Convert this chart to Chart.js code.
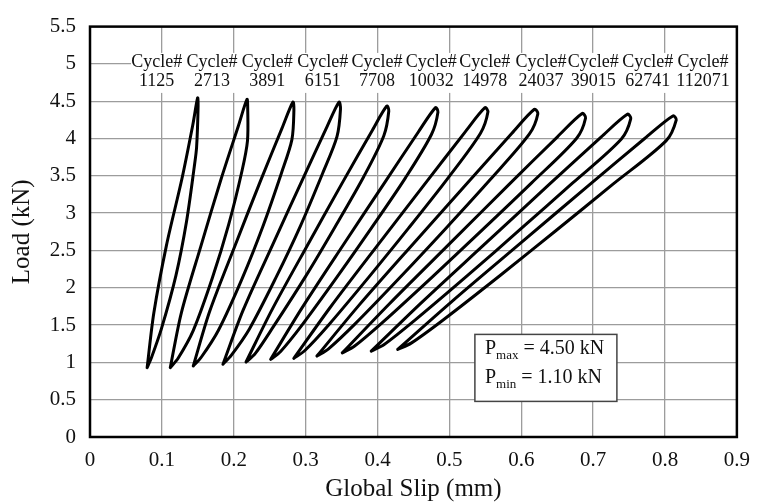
<!DOCTYPE html>
<html>
<head>
<meta charset="utf-8">
<script src="https://cdn.jsdelivr.net/npm/chart.js@4.4.1/dist/chart.umd.min.js"></script>
<style>
  html, body { margin: 0; padding: 0; background: #fff; }
  #wrap { width: 761px; height: 502px; }
</style>
</head>
<body>
<div id="wrap"><canvas id="c" width="761" height="502"></canvas></div>
<script>
// Load–slip hysteresis loops recorded at selected fatigue cycles.
// Each loop is a closed path of [slip (mm), load (kN)] points.
const cycleNumbers = [1125, 2713, 3891, 6151, 7708, 10032, 14978, 24037, 39015, 62741, 112071];

const cycle1125 = [[0.0795,0.930],[0.0888,1.661],[0.1063,2.565],[0.1279,3.461],[0.1430,4.182],[0.1497,4.544],[0.1504,4.438],[0.1483,3.883],[0.1450,3.617],[0.1343,2.889],[0.1196,2.167],[0.0995,1.455],[0.0857,1.069],[0.0795,0.930]];
const cycle2713 = [[0.1117,0.930],[0.1271,1.665],[0.1544,2.562],[0.1824,3.457],[0.2064,4.168],[0.2184,4.524],[0.2194,4.418],[0.2191,3.968],[0.2116,3.571],[0.1929,2.845],[0.1702,2.130],[0.1436,1.426],[0.1226,1.056],[0.1117,0.930]];
const cycle3891 = [[0.1437,0.952],[0.1663,1.678],[0.2016,2.560],[0.2375,3.439],[0.2672,4.139],[0.2823,4.488],[0.2837,4.382],[0.2809,3.985],[0.2663,3.536],[0.2405,2.822],[0.2115,2.120],[0.1787,1.431],[0.1550,1.072],[0.1437,0.952]];
const cycle6151 = [[0.1850,0.975],[0.2129,1.696],[0.2539,2.572],[0.2955,3.445],[0.3290,4.142],[0.3464,4.488],[0.3485,4.395],[0.3436,4.025],[0.3237,3.535],[0.2927,2.827],[0.2585,2.132],[0.2218,1.449],[0.1965,1.094],[0.1850,0.975]];
const cycle7708 = [[0.2171,1.005],[0.2533,1.707],[0.3022,2.564],[0.3518,3.419],[0.3921,4.098],[0.4129,4.435],[0.4157,4.369],[0.4088,4.038],[0.3808,3.488],[0.3405,2.809],[0.2989,2.136],[0.2549,1.475],[0.2298,1.117],[0.2171,1.005]];
const cycle10032 = [[0.2514,1.041],[0.2950,1.730],[0.3523,2.573],[0.4102,3.413],[0.4566,4.084],[0.4807,4.414],[0.4841,4.354],[0.4752,4.057],[0.4389,3.473],[0.3919,2.806],[0.3438,2.146],[0.2944,1.493],[0.2652,1.147],[0.2514,1.041]];
const cycle14978 = [[0.2836,1.054],[0.3346,1.742],[0.4011,2.582],[0.4681,3.418],[0.5218,4.086],[0.5495,4.414],[0.5536,4.354],[0.5433,4.070],[0.4978,3.466],[0.4435,2.802],[0.3882,2.146],[0.3317,1.498],[0.2986,1.156],[0.2836,1.054]];
const cycle24037 = [[0.3157,1.085],[0.3741,1.764],[0.4498,2.591],[0.5260,3.413],[0.5870,4.070],[0.6183,4.392],[0.6231,4.332],[0.6114,4.061],[0.5566,3.447],[0.4950,2.795],[0.4325,2.151],[0.3688,1.516],[0.3319,1.182],[0.3157,1.085]];
const cycle39015 = [[0.3510,1.128],[0.4163,1.783],[0.4997,2.585],[0.5831,3.386],[0.6504,4.023],[0.6847,4.335],[0.6895,4.275],[0.6771,4.004],[0.6144,3.406],[0.5462,2.779],[0.4775,2.157],[0.4079,1.543],[0.3682,1.219],[0.3510,1.128]];
const cycle62741 = [[0.3913,1.151],[0.4612,1.801],[0.5502,2.594],[0.6393,3.388],[0.7110,4.018],[0.7476,4.325],[0.7524,4.266],[0.7393,3.994],[0.6712,3.401],[0.5985,2.781],[0.5254,2.165],[0.4513,1.559],[0.4093,1.239],[0.3913,1.151]];
const cycle112071 = [[0.4281,1.173],[0.5033,1.814],[0.5990,2.597],[0.6947,3.379],[0.7717,4.000],[0.8109,4.303],[0.8157,4.250],[0.8017,3.972],[0.7272,3.385],[0.6493,2.774],[0.5710,2.168],[0.4918,1.572],[0.4468,1.258],[0.4281,1.173]];

const cycleLoops = [cycle1125, cycle2713, cycle3891, cycle6151, cycle7708, cycle10032,
                    cycle14978, cycle24037, cycle39015, cycle62741, cycle112071];

// Slip position (mm) at which each "Cycle#" caption is centred
const cycleLabelSlip = [0.0928, 0.1698, 0.2467, 0.3237, 0.3993, 0.4749, 0.5491, 0.6274, 0.7003, 0.7759, 0.8529];

// Load amplitude note
const loadSymbols = ['P', 'P'];
const loadSubscripts = ['max', 'min'];
const loadValues = [4.50, 1.10];

// Axis ticks
const slipTicks = [0, 0.1, 0.2, 0.3, 0.4, 0.5, 0.6, 0.7, 0.8, 0.9];
const loadTicks = [0, 0.5, 1, 1.5, 2, 2.5, 3, 3.5, 4, 4.5, 5, 5.5];

const SERIF = '"Liberation Serif", "Times New Roman", serif';

const datasets = cycleLoops.map((loop, i) => ({
  label: 'Cycle# ' + cycleNumbers[i],
  data: loop.map(p => ({ x: p[0], y: p[1] })),
  showLine: true,
  borderColor: '#000',
  borderWidth: 3,
  borderJoinStyle: 'round',
  borderCapStyle: 'round',
  pointRadius: 0,
  pointHoverRadius: 0,
  tension: 0.3,
  fill: false
}));

const fmt = v => String(Math.round(v * 10) / 10);

// Caption strip with cycle numbers, drawn over the grid but under the loops
const cycleCaptions = {
  id: 'cycleCaptions',
  beforeDatasetsDraw(chart) {
    const { ctx, chartArea: a, scales: { x, y } } = chart;
    const y5 = y.getPixelForValue(5);
    const x0 = a.left + 41;
    ctx.save();
    ctx.fillStyle = '#fff';
    ctx.fillRect(x0, y5 - 11, a.right - x0 - 1, 40);
    ctx.fillStyle = '#111';
    ctx.font = '18px ' + SERIF;
    ctx.textAlign = 'center';
    ctx.textBaseline = 'alphabetic';
    cycleNumbers.forEach((n, i) => {
      const cx = x.getPixelForValue(cycleLabelSlip[i]);
      ctx.fillText('Cycle#', cx, y5 + 3);
      ctx.fillText(String(n), cx, y5 + 22);
    });
    ctx.restore();
  },
  afterDatasetsDraw(chart) {
    const { ctx, scales: { x, y } } = chart;
    // note box with load limits
    const bx = x.getPixelForValue(0.5355), by = y.getPixelForValue(1.375);
    const bw = 142, bh = 67;
    ctx.save();
    ctx.fillStyle = '#fff';
    ctx.fillRect(bx, by, bw, bh);
    ctx.strokeStyle = '#444';
    ctx.lineWidth = 1.5;
    ctx.strokeRect(bx, by, bw, bh);
    ctx.fillStyle = '#111';
    ctx.textBaseline = 'alphabetic';
    ctx.textAlign = 'left';
    loadSymbols.forEach((s, i) => {
      const base = by + 20 + i * 28.5;
      let tx = bx + 10;
      ctx.font = '20px ' + SERIF;
      ctx.fillText(s, tx, base);
      tx += ctx.measureText(s).width;
      ctx.font = '13px ' + SERIF;
      ctx.fillText(loadSubscripts[i], tx, base + 5);
      tx += ctx.measureText(loadSubscripts[i]).width;
      ctx.font = '20px ' + SERIF;
      ctx.fillText(' = ' + loadValues[i].toFixed(2) + ' kN', tx, base);
    });
    ctx.restore();
  },
  afterDraw(chart) {
    const { ctx, chartArea: a } = chart;
    ctx.save();
    ctx.strokeStyle = '#000';
    ctx.lineWidth = 2.5;
    ctx.strokeRect(a.left, a.top, a.right - a.left, a.bottom - a.top);
    ctx.restore();
  }
};

new Chart(document.getElementById('c'), {
  type: 'scatter',
  data: { datasets },
  plugins: [cycleCaptions],
  options: {
    responsive: false,
    animation: false,
    devicePixelRatio: 1,
    layout: { padding: { top: 21, right: 16, bottom: 0, left: 0 } },
    plugins: { legend: { display: false }, tooltip: { enabled: false } },
    scales: {
      x: {
        type: 'linear', min: 0, max: 0.9,
        afterBuildTicks: s => { s.ticks = slipTicks.map(v => ({ value: v })); },
        afterFit: s => { s.height = 65; },
        ticks: { callback: fmt, color: '#111', padding: 11, maxRotation: 0,
                 font: { family: SERIF, size: 21 } },
        grid: { color: '#9c9c9c', lineWidth: 1.3, drawTicks: false },
        border: { display: false },
        title: { display: true, text: 'Global Slip (mm)', color: '#111',
                 font: { family: SERIF, size: 25, lineHeight: 1 }, padding: { top: 0, bottom: 0 } }
      },
      y: {
        type: 'linear', min: 0, max: 5.5,
        afterBuildTicks: s => { s.ticks = loadTicks.map(v => ({ value: v })); },
        afterFit: s => { s.width = 90; },
        ticks: { callback: fmt, color: '#111', padding: 14,
                 font: { family: SERIF, size: 21 } },
        grid: { color: '#9c9c9c', lineWidth: 1.3, drawTicks: false },
        border: { display: false },
        title: { display: true, text: 'Load (kN)', color: '#111',
                 font: { family: SERIF, size: 25, lineHeight: 1 }, padding: { top: 10, bottom: 0 } }
      }
    }
  }
});
</script>
</body>
</html>
